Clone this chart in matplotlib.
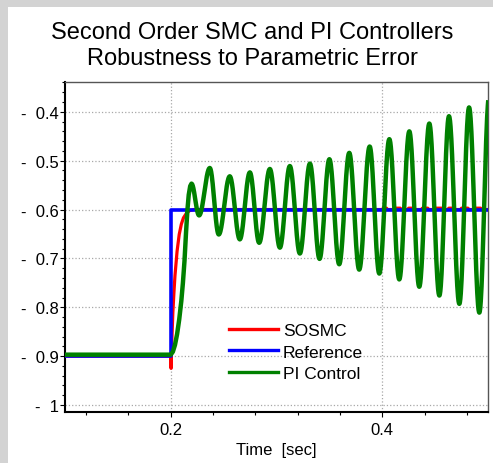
import numpy as np
import matplotlib
matplotlib.use("Agg")
import matplotlib.pyplot as plt
from matplotlib.patches import Rectangle
from matplotlib.ticker import MultipleLocator

plt.rcParams["font.family"] = ["Liberation Sans", "DejaVu Sans"]

TITLE_1 = "Second Order SMC and PI Controllers"
TITLE_2 = "Robustness to Parametric Error"
X_LABEL = "Time  [sec]"
LABELS = ["SOSMC", "Reference", "PI Control"]
COLORS = ["#ff0000", "#0000ff", "#008000"]

# reference step
ref_t = [0.1, 0.2, 0.2, 0.5]
ref_v = [-0.9, -0.9, -0.6, -0.6]

# SOSMC response
sosmc_t = [0.1, 0.1998, 0.2003, 0.201, 0.202, 0.203, 0.204, 0.206, 0.208, 0.210,
           0.212, 0.215, 0.218, 0.222, 0.30, 0.400, 0.401, 0.404, 0.405, 0.412,
           0.413, 0.417, 0.418, 0.424, 0.425, 0.430, 0.431, 0.437, 0.438, 0.443,
           0.444, 0.449, 0.450, 0.456, 0.457, 0.462, 0.463, 0.468, 0.469, 0.474,
           0.475, 0.481, 0.482, 0.487, 0.488, 0.493, 0.494, 0.500]
sosmc_v = [-0.9, -0.9, -0.925, -0.87, -0.81, -0.77, -0.735, -0.685, -0.651, -0.630,
           -0.617, -0.607, -0.602, -0.600, -0.600, -0.600, -0.5972, -0.5972, -0.600, -0.600,
           -0.5972, -0.5972, -0.600, -0.600, -0.5972, -0.5972, -0.600, -0.600, -0.5972, -0.5972,
           -0.600, -0.600, -0.5972, -0.5972, -0.600, -0.600, -0.5972, -0.5972, -0.600, -0.600,
           -0.5972, -0.5972, -0.600, -0.600, -0.5972, -0.5972, -0.600, -0.600]

# PI control: initial rise, then successive peaks / troughs
pi_rise_t = [0.1, 0.2, 0.202, 0.204, 0.206, 0.208, 0.210, 0.2115, 0.213, 0.2145,
             0.2158, 0.217, 0.2184]
pi_rise_v = [-0.897, -0.897, -0.891, -0.877, -0.855, -0.825, -0.787, -0.750, -0.705, -0.645,
             -0.600, -0.570, -0.552]
pi_ext_t = [0.2196, 0.2268, 0.2369, 0.2454, 0.2558, 0.2653, 0.2748, 0.2836, 0.2937,
            0.3032, 0.3126, 0.3221, 0.3316, 0.3407, 0.3500, 0.3593, 0.3688, 0.3782,
            0.3881, 0.3972, 0.4067, 0.4161, 0.4256, 0.4350, 0.4445, 0.4540, 0.4631,
            0.4729, 0.4821, 0.4918, 0.5010]
pi_ext_v = [-0.547, -0.612, -0.515, -0.651, -0.532, -0.661, -0.524, -0.668, -0.517,
            -0.678, -0.511, -0.690, -0.506, -0.701, -0.497, -0.712, -0.484, -0.723,
            -0.471, -0.731, -0.456, -0.743, -0.440, -0.758, -0.424, -0.776, -0.409,
            -0.793, -0.391, -0.811, -0.370]

Y_TICKS = [-1.0, -0.9, -0.8, -0.7, -0.6, -0.5, -0.4]
Y_TICK_LABELS = ["-  1", "-  0.9", "-  0.8", "-  0.7", "-  0.6", "-  0.5", "-  0.4"]
X_TICKS = [0.2, 0.4]


def smooth_extrema(ts, vs, n=40):
    # half-cosine between each peak and trough so the swing has a round top
    out_t, out_v = [], []
    for i in range(len(ts) - 1):
        s = np.linspace(0, 1, n, endpoint=False)
        out_t.extend(ts[i] + (ts[i + 1] - ts[i]) * s)
        out_v.extend(vs[i] + (vs[i + 1] - vs[i]) * (1 - np.cos(np.pi * s)) / 2)
    out_t.append(ts[-1])
    out_v.append(vs[-1])
    return out_t, out_v


osc_t, osc_v = smooth_extrema(pi_ext_t, pi_ext_v)
pi_t = pi_rise_t + list(osc_t)
pi_v = pi_rise_v + list(osc_v)

fig = plt.figure(figsize=(4.93, 4.64), dpi=100)
fig.patch.set_facecolor("white")
fig.add_artist(Rectangle((0, 0), 8 / 493, 1, transform=fig.transFigure,
                         facecolor="#d3d3d3", edgecolor="none", zorder=-5))
fig.add_artist(Rectangle((0, 1 - 8 / 464), 1, 8 / 464, transform=fig.transFigure,
                         facecolor="#d3d3d3", edgecolor="none", zorder=-5))

ax = fig.add_axes([65 / 493, 51 / 464, 423 / 493, 330 / 464])

ax.plot(sosmc_t, sosmc_v, color=COLORS[0], lw=2.3, label=LABELS[0], zorder=3)
ax.plot(ref_t, ref_v, color=COLORS[1], lw=2.6, label=LABELS[1], zorder=4)
ax.plot(pi_t, pi_v, color=COLORS[2], lw=3.2, label=LABELS[2], zorder=5)

ax.set_xlim(0.1, 0.5)
ax.set_ylim(-1.0143, -0.339)

ax.set_yticks(Y_TICKS)
ax.set_yticklabels(Y_TICK_LABELS)
ax.yaxis.set_minor_locator(MultipleLocator(0.02))
ax.set_xticks(X_TICKS)
ax.set_xticklabels([f"{v:.1f}" for v in X_TICKS])
ax.xaxis.set_minor_locator(MultipleLocator(0.04))

ax.tick_params(axis="both", which="major", direction="out", length=3.5, width=0.8,
               labelsize=12, color="black")
ax.tick_params(axis="both", which="minor", direction="out", length=2.2, width=0.8,
               color="black")
ax.tick_params(axis="y", pad=1)
ax.tick_params(axis="x", pad=4)

ax.grid(True, which="major", color="#a8a8a8", linestyle=":", linewidth=0.9)
ax.set_axisbelow(True)

for side in ("left", "bottom"):
    ax.spines[side].set_linewidth(1.5)
    ax.spines[side].set_color("black")
for side in ("top", "right"):
    ax.spines[side].set_linewidth(1.0)
    ax.spines[side].set_color("#555555")

ax.set_xlabel(X_LABEL, fontsize=12, labelpad=3)

leg = ax.legend(loc="center left", bbox_to_anchor=(0.371, 0.182), frameon=False,
                fontsize=12.5, handlelength=2.85, handletextpad=0.25,
                labelspacing=0.36, borderaxespad=0)
for line in leg.get_lines():
    line.set_linewidth(2.4)

fig.text(252.5 / 493, 1 - 39.3 / 464, TITLE_1, ha="center", va="baseline", fontsize=17)
fig.text(252.5 / 493, 1 - 65 / 464, TITLE_2, ha="center", va="baseline", fontsize=17)

fig.savefig("out.png", dpi=100)
